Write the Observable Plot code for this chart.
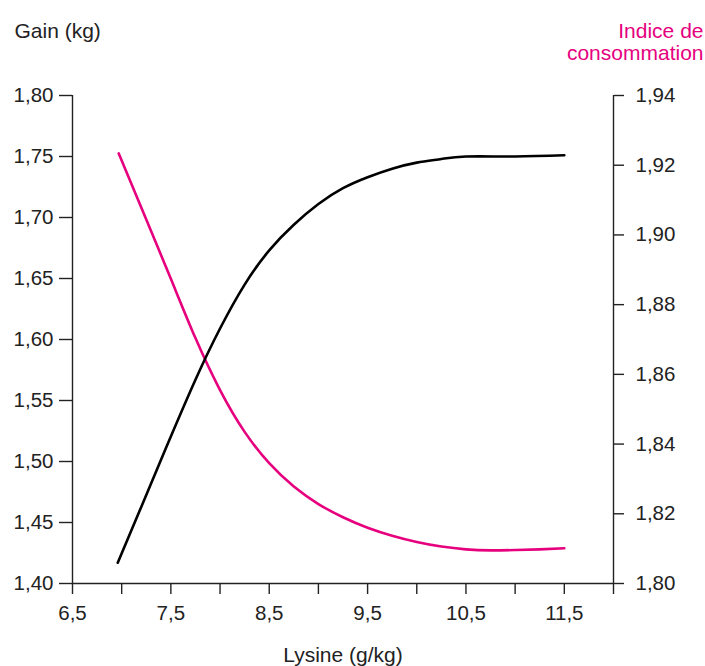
<!DOCTYPE html>
<html>
<head>
<meta charset="utf-8">
<script src="https://cdn.jsdelivr.net/npm/d3@7"></script>
<script src="https://cdn.jsdelivr.net/npm/@observablehq/plot@0.6"></script>
<style>
  html, body { margin: 0; padding: 0; background: #fff; }
</style>
</head>
<body>
<div id="chart"></div>
<script>
// Gain (kg) vs lysine (left axis)
const lysineGain = [6.96, 7.20, 7.45, 7.75, 8.00, 8.25, 8.50, 8.75, 9.00, 9.25, 9.50, 9.75, 10.00, 10.25, 10.50, 11.00, 11.50];
const gain =       [1.417, 1.463, 1.511, 1.567, 1.609, 1.645, 1.673, 1.694, 1.711, 1.724, 1.733, 1.740, 1.745, 1.748, 1.750, 1.750, 1.751];
// Indice de consommation vs lysine (right axis)
const lysineIC = [6.97, 7.25, 7.50, 7.75, 8.00, 8.25, 8.50, 8.75, 9.00, 9.25, 9.50, 9.75, 10.00, 10.25, 10.50, 10.75, 11.00, 11.25, 11.50];
const indice =   [1.9234, 1.9044, 1.8874, 1.8704, 1.8555, 1.8435, 1.8345, 1.8278, 1.8228, 1.8190, 1.8160, 1.8137, 1.8119, 1.8106, 1.8098, 1.8095, 1.8096, 1.8098, 1.8101];

const xTicks = [6.5, 7.5, 8.5, 9.5, 10.5, 11.5];
const xMinorTicks = [7, 8, 9, 10, 11, 12];
const leftTicks = [1.40, 1.45, 1.50, 1.55, 1.60, 1.65, 1.70, 1.75, 1.80];
const rightTicks = [1.80, 1.82, 1.84, 1.86, 1.88, 1.90, 1.92, 1.94];

const leftDomain = [1.40, 1.80];
const rightDomain = [1.80, 1.94];
const toLeft = v => leftDomain[0] + (v - rightDomain[0]) * (leftDomain[1] - leftDomain[0]) / (rightDomain[1] - rightDomain[0]);
const fromLeft = v => rightDomain[0] + (v - leftDomain[0]) * (rightDomain[1] - rightDomain[0]) / (leftDomain[1] - leftDomain[0]);
const comma = (v, n) => v.toFixed(n).replace(".", ",");

const gainData = lysineGain.map((x, i) => ({x, y: gain[i]}));
const icData = lysineIC.map((x, i) => ({x, y: indice[i]}));

const PINK = "#e6007e";
const AXIS = "#222";
const FS = 20.5;

const chart = Plot.plot({
  width: 705,
  height: 666,
  marginLeft: 72,
  marginRight: 92,
  marginTop: 95,
  marginBottom: 83,
  style: {fontFamily: "'Liberation Sans', Arial, sans-serif", fontSize: FS + "px", color: "#222", background: "#fff"},
  x: {domain: [6.5, 12], axis: null},
  y: {domain: leftDomain, axis: null},
  marks: [
    // axis lines
    Plot.ruleX([6.5], {stroke: AXIS, strokeWidth: 1.4}),
    Plot.ruleX([12], {stroke: AXIS, strokeWidth: 1.4}),
    Plot.ruleY([1.40], {stroke: AXIS, strokeWidth: 1.4}),
    // x axis
    Plot.axisX({ticks: xTicks, tickSize: 11, tickPadding: 11, tickFormat: d => comma(d, 1), stroke: AXIS, strokeWidth: 1.4, label: null, fontSize: FS}),
    Plot.axisX({ticks: xMinorTicks, tickSize: 11, tickFormat: () => "", stroke: AXIS, strokeWidth: 1.4, label: null}),
    // left axis
    Plot.axisY({ticks: leftTicks, anchor: "left", tickSize: 13, tickPadding: 6, tickFormat: d => comma(d, 2), stroke: AXIS, strokeWidth: 1.4, label: null, fontSize: FS}),
    // right axis (Indice de consommation)
    Plot.axisY({ticks: rightTicks.map(toLeft), anchor: "right", tickSize: 10, tickPadding: 12, tickFormat: d => comma(fromLeft(d), 2), stroke: AXIS, strokeWidth: 1.4, label: null, fontSize: FS}),
    // curves
    Plot.line(icData, {x: "x", y: d => toLeft(d.y), stroke: PINK, strokeWidth: 2.6, curve: "natural"}),
    Plot.line(gainData, {x: "x", y: "y", stroke: "#000", strokeWidth: 2.6, curve: "natural"}),
    // titles
    Plot.text(["Gain (kg)"], {frameAnchor: "top-left", dx: -58, dy: -64, textAnchor: "start", lineAnchor: "middle", fill: "#222", fontSize: 21}),
    Plot.text(["Indice de"], {frameAnchor: "top-right", dx: 90, dy: -64, textAnchor: "end", lineAnchor: "middle", fill: PINK, fontSize: 21}),
    Plot.text(["consommation"], {frameAnchor: "top-right", dx: 90, dy: -42, textAnchor: "end", lineAnchor: "middle", fill: PINK, fontSize: 21}),
    Plot.text(["Lysine (g/kg)"], {frameAnchor: "bottom", dy: 72, lineAnchor: "middle", fill: "#222", fontSize: 21})
  ]
});
document.getElementById("chart").appendChild(chart);
</script>
</body>
</html>
